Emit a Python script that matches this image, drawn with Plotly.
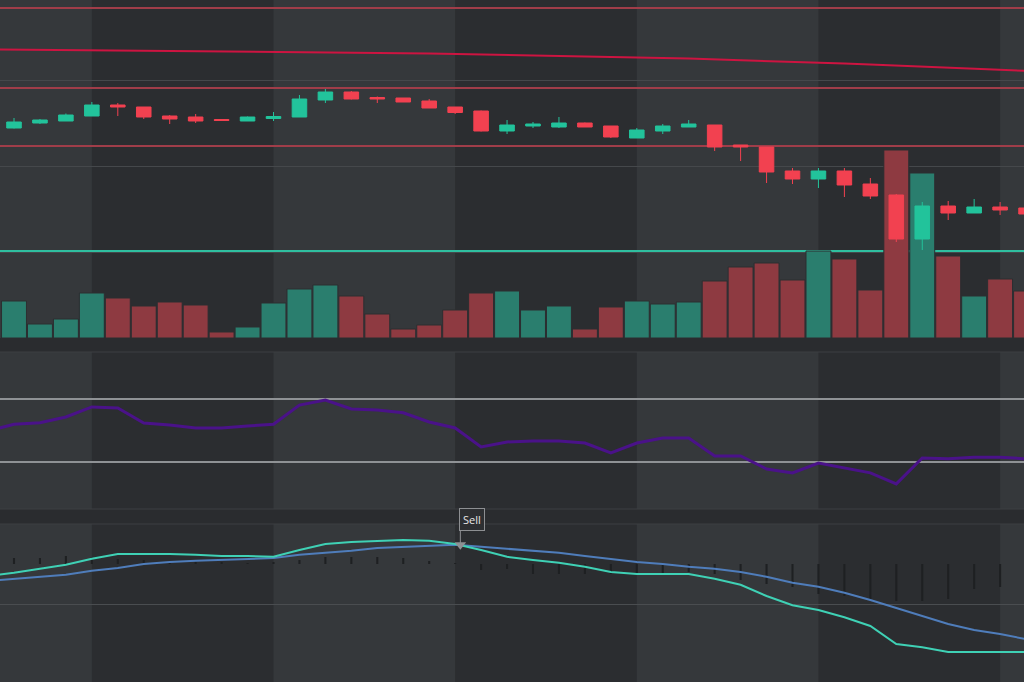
import plotly.graph_objects as go

# ---------------- data ----------------
idx = list(range(40))
line_idx = list(range(-1, 40))

open_ = [147.2, 147.7, 147.9, 148.4, 149.5, 149.3, 148.4, 148.3, 148.05, 147.9,
         148.15, 148.3, 150.0, 150.8, 150.25, 150.2, 149.9, 149.3, 148.9, 146.9,
         147.4, 147.3, 147.7, 147.4, 146.2, 146.9, 147.3, 147.5, 145.5, 145.3,
         142.9, 142.1, 142.9, 141.6, 140.5, 136.1, 139.4, 138.7, 139.3, 139.2]
high = [148.2, 148.1, 148.65, 149.8, 149.7, 149.3, 148.5, 148.6, 148.06, 148.35,
        148.8, 150.5, 151.1, 150.9, 150.35, 150.2, 150.1, 149.3, 148.95, 148.0,
        147.8, 148.3, 147.75, 147.4, 147.2, 147.6, 148.0, 147.5, 145.5, 145.3,
        143.2, 143.2, 143.2, 142.2, 140.6, 139.8, 139.9, 140.1, 139.8, 139.4]
low = [147.15, 147.6, 147.9, 148.4, 148.4, 148.1, 147.6, 147.7, 147.94, 147.9,
       147.9, 148.3, 149.7, 150.05, 149.7, 149.8, 149.2, 148.6, 146.85, 146.6,
       147.2, 147.2, 147.3, 146.2, 146.2, 146.6, 147.3, 144.9, 143.9, 141.7,
       141.6, 141.2, 140.3, 140.1, 135.8, 135.0, 138.0, 138.7, 138.5, 138.4]
close = [147.8, 148.0, 148.5, 149.5, 149.3, 148.3, 148.1, 147.9, 147.95, 148.3,
         148.35, 150.1, 150.8, 150.1, 150.1, 149.8, 149.2, 148.75, 146.9, 147.5,
         147.6, 147.7, 147.3, 146.3, 147.0, 147.4, 147.6, 145.3, 145.3, 142.8,
         142.1, 142.9, 141.5, 140.4, 136.1, 139.4, 138.7, 139.3, 139.0, 138.6]
volume = [3.7, 1.4, 1.9, 4.5, 4.0, 3.2, 3.6, 3.3, 0.6, 1.1,
          3.5, 4.9, 5.3, 4.2, 2.4, 0.9, 1.3, 2.8, 4.5, 4.7,
          2.8, 3.2, 0.9, 3.1, 3.7, 3.4, 3.6, 5.7, 7.1, 7.5,
          5.8, 8.7, 7.9, 4.8, 18.8, 16.5, 8.2, 4.2, 5.9, 4.7]
ma_long = [155.06, 155.04, 155.02, 155.0, 154.98, 154.96, 154.94, 154.92, 154.9, 154.88,
           154.85, 154.82, 154.8, 154.77, 154.74, 154.71, 154.68, 154.64, 154.6, 154.56,
           154.52, 154.48, 154.43, 154.38, 154.33, 154.27, 154.21, 154.14, 154.07, 153.99,
           153.91, 153.83, 153.74, 153.65, 153.56, 153.46, 153.36, 153.25, 153.14, 153.03,
           152.92]
rsi = [49.7, 54.0, 55.0, 58.6, 65.0, 64.3, 54.8, 53.5, 51.6, 51.6,
       52.9, 54.0, 66.2, 69.4, 63.7, 63.0, 61.3, 55.4, 51.6, 39.5,
       42.7, 43.3, 43.3, 42.0, 35.7, 42.0, 45.2, 45.2, 33.8, 33.8,
       25.5, 23.0, 29.3, 26.0, 23.0, 16.0, 32.5, 32.0, 33.0, 33.0,
       32.0]
macd = [0.70, 0.78, 0.88, 0.98, 1.13, 1.25, 1.25, 1.25, 1.23, 1.20,
        1.20, 1.18, 1.35, 1.50, 1.55, 1.58, 1.60, 1.58, 1.50, 1.35,
        1.18, 1.10, 1.03, 0.93, 0.80, 0.75, 0.75, 0.75, 0.63, 0.48,
        0.20, -0.03, -0.15, -0.33, -0.55, -1.00, -1.08, -1.20, -1.20, -1.20,
        -1.20]
signal = [0.58, 0.63, 0.68, 0.73, 0.83, 0.90, 1.00, 1.05, 1.08, 1.10,
          1.13, 1.15, 1.23, 1.28, 1.33, 1.40, 1.43, 1.45, 1.48, 1.43,
          1.38, 1.33, 1.28, 1.20, 1.13, 1.05, 1.00, 0.93, 0.88, 0.80,
          0.68, 0.53, 0.43, 0.28, 0.10, -0.10, -0.30, -0.50, -0.65, -0.75,
          -0.88]
hist = [0.06, 0.06, 0.08, 0.07, 0.05, 0.04, 0.02, 0.02, 0.02, 0.01,
        0.02, 0.04, 0.07, 0.07, 0.07, 0.06, 0.03, 0.005, -0.06, -0.05,
        -0.10, -0.10, -0.10, -0.10, -0.10, -0.10, -0.08, -0.10, -0.16, -0.20,
        -0.23, -0.30, -0.32, -0.35, -0.37, -0.37, -0.35, -0.25, -0.23, -0.20]
level_lines = [159.2, 151.2, 145.4]
price_grid = [134.8, 143.4, 152.0]
vol_avg = 8.7
rsi_levels = [30, 70]
macd_zero = [0]
band_start = [3, 17, 31]
band_end = [10, 24, 38]
sell_x = [17.2]
sell_y = [1.48]
sell_text = ["Sell"]

# ---------------- styles ----------------
TEAL = "#22c39b"
RED = "#f24150"
VOL_TEAL = "#2a7e6e"
VOL_RED = "#8e3a41"
LIGHT_BG = "#35383b"
DARK_BG = "#2b2d30"
PAPER = "#2a2c2f"
H = 682.0

XR = [-14 / 25.95, (1024 - 14) / 25.95]
D_PRICE = [1 - 338 / H, 1]
D_RSI = [1 - 509 / H, 1 - 352 / H]
D_MACD = [0, 1 - 524 / H]

fig = go.Figure()

vol_colors = [VOL_TEAL if c >= o else VOL_RED for o, c in zip(open_, close)]
fig.add_trace(go.Bar(x=idx, y=volume,
                     marker=dict(color=vol_colors, line=dict(width=1, color="#2c2e31")),
                     xaxis="x", yaxis="y", hoverinfo="skip"))
fig.add_trace(go.Scatter(x=line_idx, y=ma_long, mode="lines",
                         line=dict(color="#cd1441", width=2), xaxis="x", yaxis="y2"))
fig.add_trace(go.Candlestick(x=idx, open=open_, high=high, low=low, close=close,
                             increasing=dict(line=dict(color=TEAL, width=1), fillcolor=TEAL),
                             decreasing=dict(line=dict(color=RED, width=1), fillcolor=RED),
                             xaxis="x", yaxis="y2", whiskerwidth=0))

fig.add_trace(go.Scatter(x=line_idx, y=rsi, mode="lines",
                         line=dict(color="#4a1289", width=3), xaxis="x2", yaxis="y3"))

fig.add_trace(go.Bar(x=idx, y=hist, width=0.08, marker=dict(color="#1e2022", line=dict(width=0)),
                     xaxis="x3", yaxis="y4"))
fig.add_trace(go.Scatter(x=line_idx, y=signal, mode="lines",
                         line=dict(color="#4f7dbb", width=2), xaxis="x3", yaxis="y5"))
fig.add_trace(go.Scatter(x=line_idx, y=macd, mode="lines",
                         line=dict(color="#3fd1b5", width=2), xaxis="x3", yaxis="y5"))
fig.add_trace(go.Scatter(x=sell_x, y=sell_y, mode="markers",
                         marker=dict(symbol="triangle-down", size=10, color="#8e9093"),
                         xaxis="x3", yaxis="y5"))

shapes = []
for xa, ya in [("x", "y"), ("x2", "y3"), ("x3", "y4")]:
    for s, e in zip(band_start, band_end):
        shapes.append(dict(type="rect", xref=xa, yref=ya + " domain", x0=s, x1=e, y0=0, y1=1,
                           fillcolor=DARK_BG, line=dict(width=0), layer="below"))
for lv in level_lines:
    shapes.append(dict(type="line", xref="x domain", yref="y2", x0=0, x1=1, y0=lv, y1=lv,
                       line=dict(color="#a03d49", width=2), layer="below"))
shapes.append(dict(type="line", xref="x domain", yref="y", x0=0, x1=1, y0=vol_avg, y1=vol_avg,
                   line=dict(color="#2fbfa0", width=2), layer="below"))
for yp in [352, 509, 524]:
    shapes.append(dict(type="line", xref="paper", yref="paper", x0=0, x1=1,
                       y0=1 - yp / H, y1=1 - yp / H, line=dict(color="#3c3f42", width=1),
                       layer="above"))
shapes.append(dict(type="line", xref="x3", yref="y5", x0=sell_x[0], x1=sell_x[0],
                   ysizemode="pixel", yanchor=sell_y[0], y0=0, y1=14,
                   line=dict(color="#8e9093", width=1)))

hidden_x = dict(showgrid=False, zeroline=False, showticklabels=False, showline=False,
                ticks="", range=XR)

fig.update_layout(
    width=1024, height=682, margin=dict(l=0, r=0, t=0, b=0),
    paper_bgcolor=PAPER, plot_bgcolor=LIGHT_BG, showlegend=False,
    bargap=0.04, boxmode="overlay", boxgap=0.2,
    xaxis=dict(domain=[0, 1], anchor="y", rangeslider=dict(visible=False), **hidden_x),
    xaxis2=dict(domain=[0, 1], anchor="y3", **hidden_x),
    xaxis3=dict(domain=[0, 1], anchor="y4", **hidden_x),
    yaxis=dict(domain=D_PRICE, range=[0, 33.8], showgrid=False, zeroline=False,
               showticklabels=False, ticks=""),
    yaxis2=dict(overlaying="y", range=[126.2, 160.0], tickvals=price_grid, showgrid=True,
                gridcolor="#45484b", gridwidth=1, zeroline=False, showticklabels=False, ticks=""),
    yaxis3=dict(domain=D_RSI, anchor="x2", range=[0, 100], tickvals=rsi_levels, showgrid=True,
                gridcolor="#8f9295", gridwidth=1.5, zeroline=False, showticklabels=False, ticks=""),
    yaxis4=dict(domain=D_MACD, anchor="x3", range=[-1.18, 0.40], showgrid=False, zeroline=False,
                showticklabels=False, ticks=""),
    yaxis5=dict(overlaying="y4", range=[-1.95, 2.0], tickvals=macd_zero, showgrid=True,
                gridcolor="#4a4d50", gridwidth=1, zeroline=False, showticklabels=False, ticks=""),
    shapes=shapes,
    annotations=[dict(x=sell_x[0], y=sell_y[0], xref="x3", yref="y5", text=sell_text[0],
                      showarrow=False, xanchor="left", yanchor="bottom", yshift=14, xshift=-1,
                      bordercolor="#8d8f92", borderwidth=1, borderpad=3, bgcolor="#2d2f32",
                      font=dict(family="Open Sans", size=11, color="#e6e6e6"))],
)

fig.write_html("out.html")
